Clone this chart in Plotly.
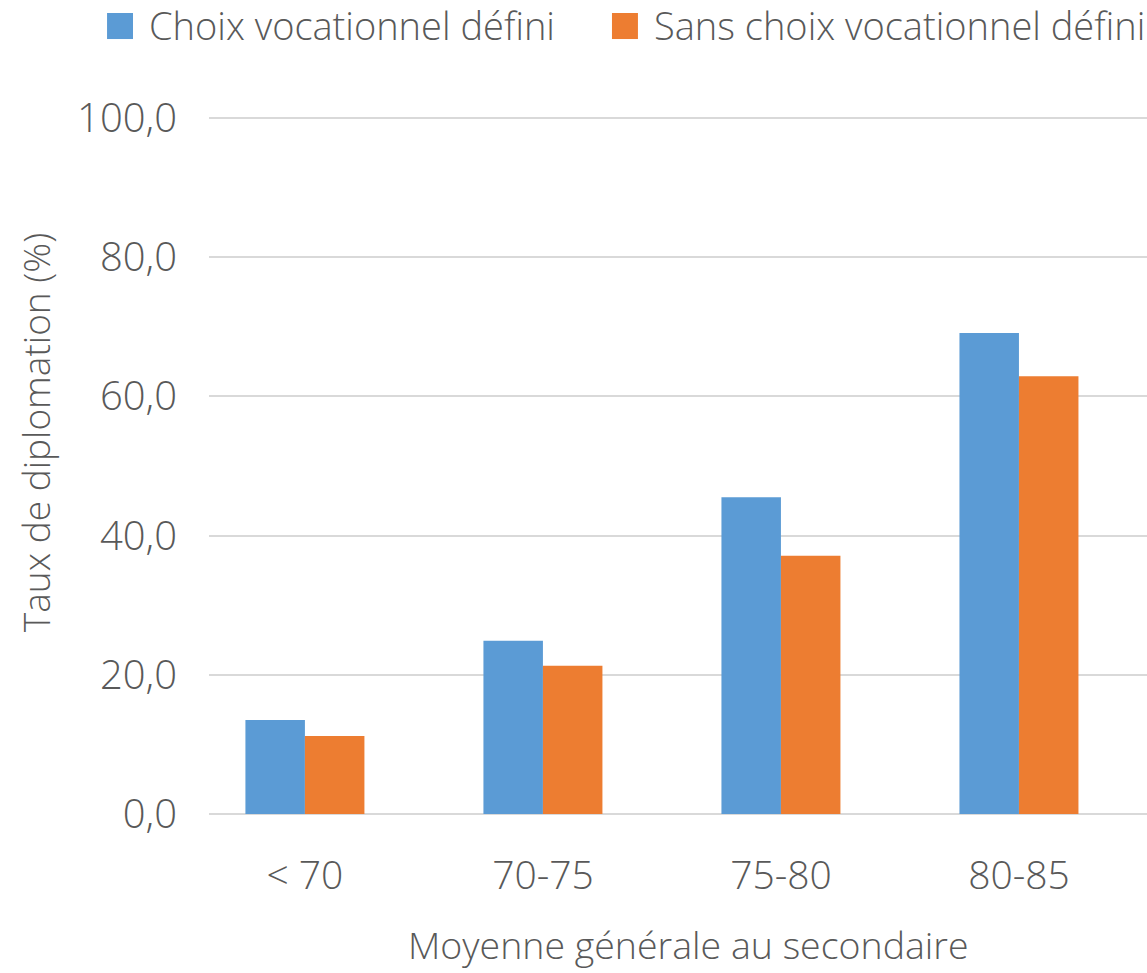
import plotly.graph_objects as go

categories = ["< 70", "70-75", "75-80", "80-85"]
choix_defini = [13.5, 24.9, 45.5, 69.1]
sans_choix = [11.2, 21.3, 37.1, 62.9]
series_names = ["Choix vocationnel défini", "Sans choix vocationnel défini"]
y_ticks = [0, 20, 40, 60, 80, 100]

BLUE = "#5B9BD5"
ORANGE = "#ED7D31"
TXT = "#595959"
FONT = "Open Sans"
W = 300

fig = go.Figure()
fig.add_trace(go.Bar(x=categories, y=choix_defini, name=series_names[0],
                     marker=dict(color=BLUE, line=dict(width=0)), showlegend=False))
fig.add_trace(go.Bar(x=categories, y=sans_choix, name=series_names[1],
                     marker=dict(color=ORANGE, line=dict(width=0)), showlegend=False))

fig.update_layout(
    width=1147, height=973,
    margin=dict(l=209, r=0, t=117, b=158, pad=0),
    paper_bgcolor="white", plot_bgcolor="white",
    barmode="group", bargap=0.5, bargroupgap=0,
    separators=", ",
    font=dict(family=FONT, size=36, color=TXT, weight=W),
    xaxis=dict(type="category", range=[-0.403, 3.538], showgrid=False, zeroline=False,
               showline=False, ticks="", ticklabelstandoff=34,
               tickfont=dict(family=FONT, size=39, color=TXT, weight=W)),
    yaxis=dict(range=[-0.15, 100.15], tickvals=y_ticks, tickformat=".1f", showgrid=True,
               gridcolor="#D9D9D9", gridwidth=2, zeroline=False, showline=False,
               ticks="", ticklabelstandoff=31,
               tickfont=dict(family=FONT, size=40, color=TXT, weight=W)),
)

# axis titles
fig.add_annotation(text="Taux de diplomation (%)", xref="paper", yref="paper",
                   x=-0.1855, y=0.547, textangle=-90, showarrow=False,
                   xanchor="center", yanchor="middle",
                   font=dict(family=FONT, size=37, color=TXT, weight=W))
fig.add_annotation(text="Moyenne générale au secondaire", xref="paper", yref="paper",
                   x=0.5107, y=-0.186, showarrow=False,
                   xanchor="center", yanchor="middle",
                   font=dict(family=FONT, size=37.5, color=TXT, weight=W))

# custom legend
legend_items = [(series_names[0], BLUE, -0.1087, -0.0661),
                (series_names[1], ORANGE, 0.4296, 0.4723)]
for name, col, sx, tx in legend_items:
    fig.add_shape(type="rect", xref="paper", yref="paper",
                  x0=sx, x1=sx + 0.0277, y0=1.1117, y1=1.149,
                  fillcolor=col, line=dict(width=0))
    fig.add_annotation(text=name, xref="paper", yref="paper", x=tx, y=1.1318,
                       showarrow=False, xanchor="left", yanchor="middle",
                       font=dict(family=FONT, size=38, color=TXT, weight=W))

fig.write_html("out.html", config={"displayModeBar": False},
               post_script="document.body.style.margin='0px';")
